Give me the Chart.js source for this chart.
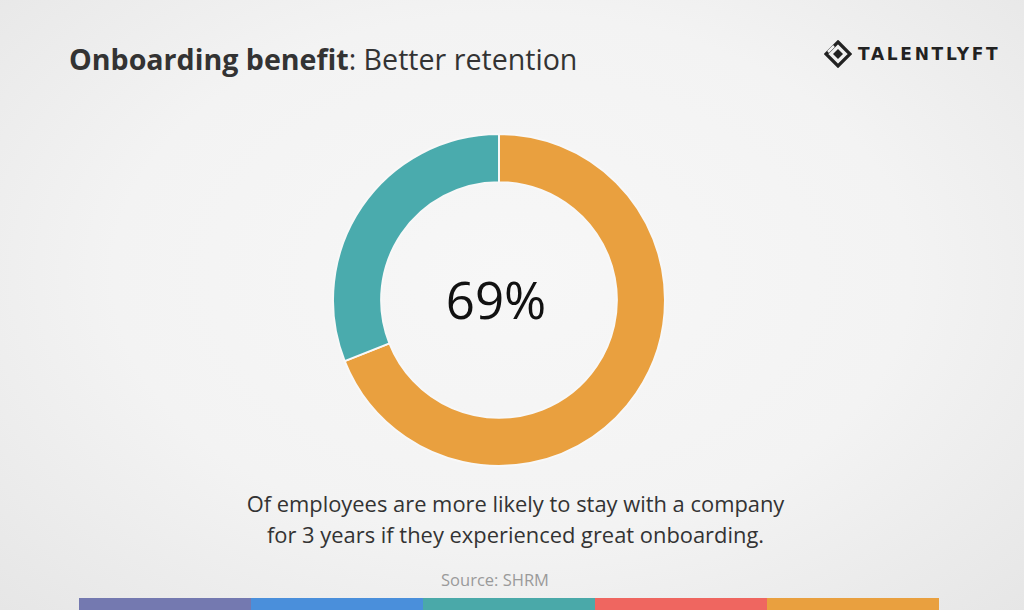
<!DOCTYPE html>
<html>
<head>
<meta charset="utf-8">
<script src="https://cdn.jsdelivr.net/npm/chart.js@4/dist/chart.umd.min.js"></script>
<style>
  html, body { margin: 0; padding: 0; }
  body {
    width: 1024px; height: 610px; overflow: hidden; position: relative;
    background: radial-gradient(ellipse at 50% 45%, #f7f7f7 0%, #f3f3f3 55%, #e6e6e6 100%);
    font-family: "Open Sans", sans-serif; color: #333;
  }
  #title { position: absolute; left: 69px; top: 39px; font-size: 28.6px; color: #333; white-space: nowrap; }
  #title b { font-weight: 700; }
  #logo { position: absolute; left: 824px; top: 40px; display: flex; align-items: center; }
  #logo span { font-family: "DejaVu Sans", sans-serif; font-weight: 700; font-size: 17px; letter-spacing: 2.7px; color: #222; margin-left: 6px; }
  #donutWrap { position: absolute; left: 332px; top: 133px; width: 334px; height: 334px; }
  #caption { position: absolute; left: 0; width: 1031px; top: 489px; text-align: center; font-size: 21.9px; line-height: 30.5px; color: #333; }
  #source { position: absolute; left: 0; width: 990px; top: 568px; text-align: center; font-size: 16.5px; color: #9a9a9a; }
  #stripe { position: absolute; left: 79px; top: 598px; height: 12px; width: 860px; display: flex; }
  #stripe div { flex: 1; }
</style>
</head>
<body>
<div id="title"><b>Onboarding benefit</b>: Better retention</div>
<div id="logo">
  <svg width="28" height="28" viewBox="0 0 28 28">
    <path d="M14 2 L26 14 L14 26 L2 14 Z" fill="none" stroke="#222" stroke-width="3.2" stroke-linejoin="miter"/>
    <path d="M14 9 L19 14 L14 19 L9 14 Z" fill="#222"/>
    <path d="M4 12 L10 6" stroke="#f2f2f2" stroke-width="2.5"/>
  </svg>
  <span>TALENTLYFT</span>
</div>
<div id="donutWrap"><canvas id="donut"></canvas></div>
<div id="caption">Of employees are more likely to stay with a company<br>for 3 years if they experienced great onboarding.</div>
<div id="source">Source: SHRM</div>
<div id="stripe"></div>
<script>
const sliceLabels = ['Stay 3 years', 'Other'];
const sliceValues = [69, 31];
const sliceColors = ['#e9a03f', '#4aabad'];
const centerLabel = '69%';
const stripeColors = ['#7479b0', '#4a8fdb', '#4aa9a9', '#ef6660', '#e9a03f'];

const stripe = document.getElementById('stripe');
stripeColors.forEach(c => {
    const d = document.createElement('div');
    d.style.background = c;
    stripe.appendChild(d);
});

const centerText = {
    id: 'centerText',
    afterDraw(chart) {
        const meta = chart.getDatasetMeta(0).data[0];
        if (!meta) return;
        const ctx = chart.ctx;
        ctx.save();
        ctx.font = '400 51px "Open Sans"';
        ctx.fillStyle = '#111';
        ctx.textAlign = 'center';
        ctx.textBaseline = 'middle';
        ctx.fillText(centerLabel, meta.x - 3, meta.y + 4);
        ctx.restore();
    }
};

new Chart(document.getElementById('donut').getContext('2d'), {
    type: 'doughnut',
    data: {
        labels: sliceLabels,
        datasets: [{
            data: sliceValues,
            backgroundColor: sliceColors,
            borderColor: '#f8f8f8',
            borderWidth: 2
        }]
    },
    options: {
        responsive: true, maintainAspectRatio: false,
        animation: false,
        cutout: '71%',
        layout: { padding: 0 },
        plugins: {
            legend: { display: false },
            tooltip: { enabled: false }
        }
    },
    plugins: [centerText]
});
</script>
</body>
</html>
